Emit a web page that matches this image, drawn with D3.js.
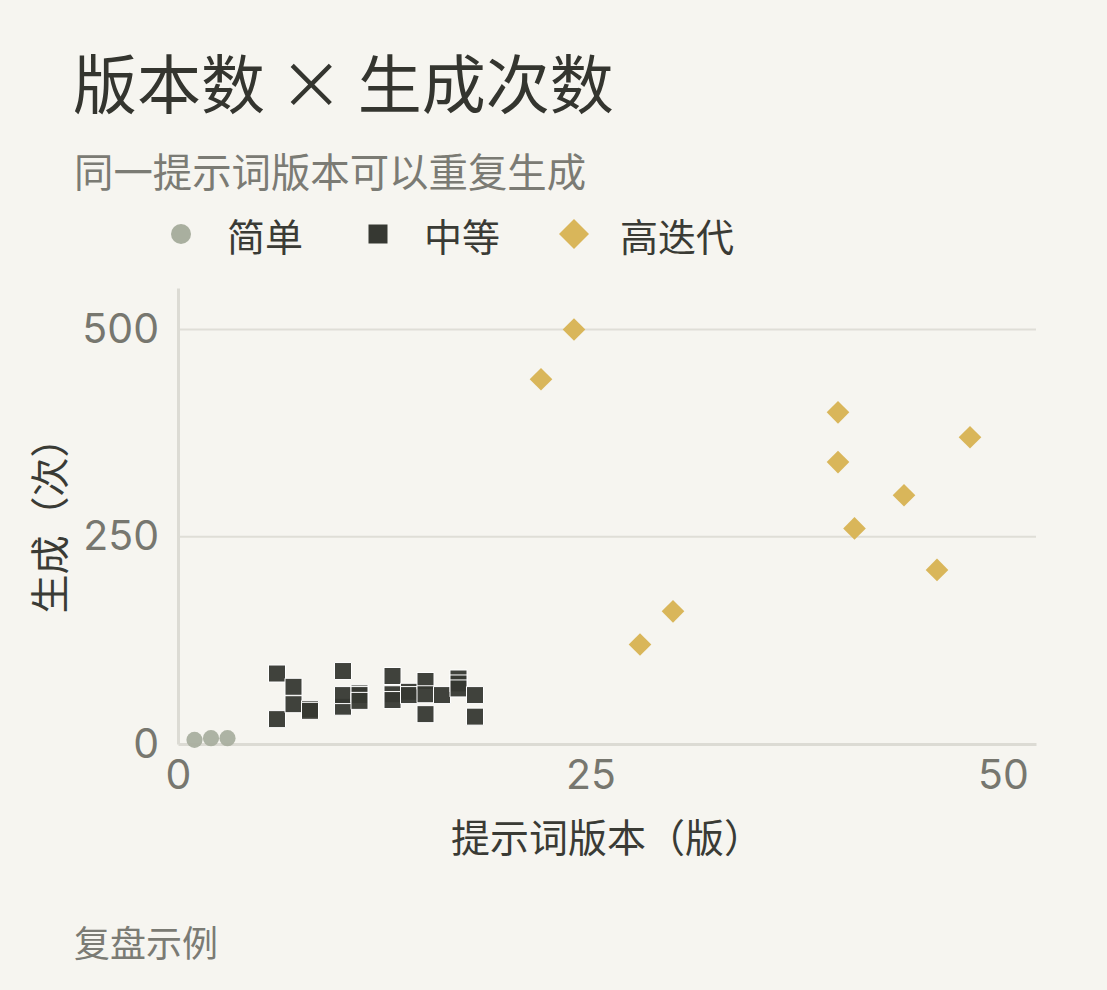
<!DOCTYPE html>
<html>
<head>
<meta charset="utf-8">
<script src="https://cdn.jsdelivr.net/npm/d3@7"></script>
<style>
  html, body { margin: 0; padding: 0; background: #f6f5f0; }
  svg { display: block; }
</style>
</head>
<body>
<div id="chart"></div>
<script>
// data
var groups = ["简单", "中等", "高迭代"];

var simpleVersions = [1, 2, 3];
var simpleRuns = [5, 7, 7];

var mediumVersions = [6, 6, 7, 7, 8, 8, 10, 10, 10, 11, 11, 11, 13, 13, 13, 14, 14, 15, 15, 15, 16, 17, 17, 17, 18, 18];
var mediumRuns = [85, 30, 69, 48, 42, 40, 45, 88, 59, 61, 59, 52, 82, 60, 53, 63, 59, 76, 60, 36, 59, 79, 73, 67, 59, 33];

var highVersions = [22, 24, 28, 30, 40, 40, 41, 44, 46, 48];
var highRuns = [440, 500, 120, 160, 400, 340, 260, 300, 210, 370];

var xTicks = [0, 25, 50];
var yTicks = [0, 250, 500];
var yGrid = [250, 500];

var W = 1107, H = 990;
var margin = { top: 288, right: 71, bottom: 246, left: 178 },
    width = W - margin.left - margin.right,
    height = H - margin.top - margin.bottom;

var cjk = "'Noto Sans CJK SC', 'Noto Sans', sans-serif";
var num = "Inter, 'Liberation Sans', sans-serif";

var svg = d3.select("#chart")
  .append("svg")
  .attr("width", W)
  .attr("height", H);

svg.append("rect").attr("width", W).attr("height", H).attr("fill", "#f6f5f0");

// title block
svg.append("text")
  .attr("x", 73).attr("y", 80)
  .attr("dominant-baseline", "central")
  .style("font-family", cjk).style("font-size", "64px")
  .style("fill", "#34352f")
  .text("版本数 × 生成次数");

svg.append("text")
  .attr("x", 74).attr("y", 169)
  .attr("dominant-baseline", "central")
  .style("font-family", cjk).style("font-size", "39.4px")
  .style("fill", "#7b7b74")
  .text("同一提示词版本可以重复生成");

svg.append("text")
  .attr("x", 74).attr("y", 941)
  .attr("dominant-baseline", "central")
  .style("font-family", cjk).style("font-size", "36px")
  .style("fill", "#7b7b74")
  .text("复盘示例");

var g = svg.append("g")
  .attr("transform", "translate(" + margin.left + "," + margin.top + ")");

var x = d3.scaleLinear().domain([0, 52]).range([0, width]);
var y = d3.scaleLinear().domain([0, 550]).range([height, 0]);

// gridlines
g.selectAll(".grid")
  .data(yGrid)
  .enter()
  .append("line")
    .attr("x1", 0).attr("x2", width)
    .attr("y1", function(d) { return y(d) })
    .attr("y2", function(d) { return y(d) })
    .attr("stroke", "#dfded7")
    .attr("stroke-width", 2);

// axes
var xAxis = g.append("g")
  .attr("transform", "translate(0," + height + ")")
  .call(d3.axisBottom(x).tickValues(xTicks).tickSize(0).tickPadding(16));
var yAxis = g.append("g")
  .call(d3.axisLeft(y).tickValues(yTicks).tickSize(0).tickPadding(19));

[xAxis, yAxis].forEach(function(a) {
  a.select(".domain").attr("stroke", "#dcdbd4").attr("stroke-width", 3);
  a.selectAll("text")
    .style("font-family", num)
    .style("font-size", "41px")
    .style("fill", "#77776f");
});

// axis titles
g.append("text")
  .attr("x", width / 2).attr("y", 835 - margin.top)
  .attr("text-anchor", "middle")
  .attr("dominant-baseline", "central")
  .style("font-family", cjk).style("font-size", "39px")
  .style("fill", "#3a3b35")
  .text("提示词版本（版）");

g.append("text")
  .attr("transform", "translate(" + (47 - margin.left) + "," + (height / 2) + ") rotate(-90)")
  .attr("text-anchor", "middle")
  .attr("dominant-baseline", "central")
  .style("font-family", cjk).style("font-size", "39px")
  .style("fill", "#3a3b35")
  .text("生成（次）");

// marks
var circle = d3.symbol().type(d3.symbolCircle).size(205);
var square = d3.symbol().type(d3.symbolSquare).size(289);
var diamond = d3.symbol().type(d3.symbolSquare).size(256);

g.selectAll(".simple")
  .data(d3.zip(simpleVersions, simpleRuns))
  .enter()
  .append("path")
    .attr("d", circle)
    .attr("transform", function(d) { return "translate(" + x(d[0]) + "," + y(d[1]) + ")" })
    .attr("fill", "#a9af9f")
    .attr("fill-opacity", 0.95);

g.selectAll(".medium")
  .data(d3.zip(mediumVersions, mediumRuns))
  .enter()
  .append("path")
    .attr("d", square)
    .attr("transform", function(d) { return "translate(" + x(d[0]) + "," + y(d[1]) + ")" })
    .attr("fill", "#363832")
    .attr("fill-opacity", 0.95)
    .attr("stroke", "#ffffff")
    .attr("stroke-width", 1);

g.selectAll(".high")
  .data(d3.zip(highVersions, highRuns))
  .enter()
  .append("path")
    .attr("d", diamond)
    .attr("transform", function(d) { return "translate(" + x(d[0]) + "," + y(d[1]) + ") rotate(45)" })
    .attr("fill", "#d9b65a");

// legend
var legendX = [181, 378, 574];
var legendShapes = [
  { sym: d3.symbol().type(d3.symbolCircle).size(314), fill: "#a9af9f", rot: 0 },
  { sym: d3.symbol().type(d3.symbolSquare).size(361), fill: "#363832", rot: 0 },
  { sym: d3.symbol().type(d3.symbolSquare).size(450), fill: "#d9b65a", rot: 45 }
];

var legend = svg.append("g");
groups.forEach(function(name, i) {
  legend.append("path")
    .attr("d", legendShapes[i].sym)
    .attr("transform", "translate(" + legendX[i] + ",234) rotate(" + legendShapes[i].rot + ")")
    .attr("fill", legendShapes[i].fill);
  legend.append("text")
    .attr("x", legendX[i] + 46).attr("y", 234)
    .attr("dominant-baseline", "central")
    .style("font-family", cjk).style("font-size", "38px")
    .style("fill", "#3a3b35")
    .text(name);
});
</script>
</body>
</html>
